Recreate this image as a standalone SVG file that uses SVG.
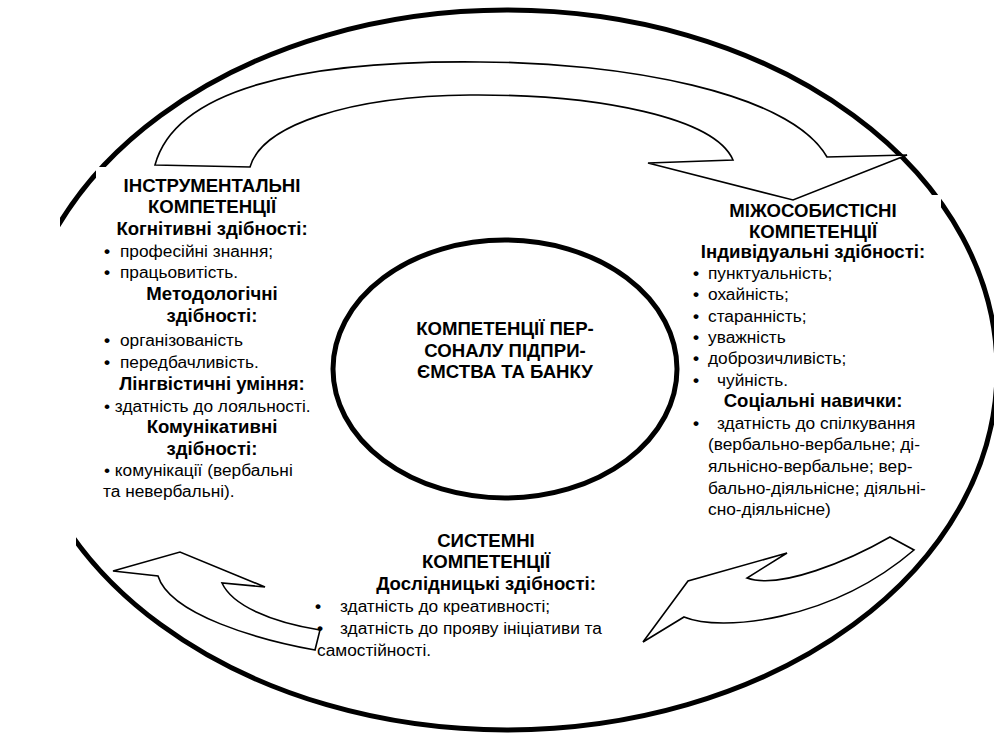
<svg xmlns="http://www.w3.org/2000/svg" width="994" height="733" viewBox="0 0 994 733">
<style>
text{font-family:"Liberation Sans",Arial,sans-serif;fill:#000}
.h{font-weight:bold;font-size:18.6px;text-anchor:middle}
.t{font-size:17.3px}
.bl{font-weight:bold}
.ell{fill:none;stroke:#000;stroke-width:5}
.arr{fill:#fff;stroke:#000;stroke-width:1.6;stroke-linejoin:miter}
</style>
<defs>
<clipPath id="cl"><polygon points="60,0 994,0 994,733 76,733 76,530 60,400"/></clipPath>
</defs>
<rect x="0" y="0" width="994" height="733" fill="#fff"/>
<g id="outer">
<ellipse class="ell" cx="507" cy="370" rx="490" ry="360" clip-path="url(#cl)"/>
<rect x="96" y="167" width="12" height="13" fill="#fff"/>
<rect x="926" y="195" width="15" height="12" fill="#fff"/>
</g>
<g id="connectors">
<path class="arr" d="M155,165 L250,167 C262,125 350,96 470,95 C600,94 715,118 733,160 L648,163 L793,200 L907,155 L827,157 C790,92 620,62 480,62 C300,60 175,90 155,165 Z"/>
<path class="arr" d="M113,571 L180,552 L265,587 L222,583 C232,605 270,622 320,630 L315,650 C260,640 170,615 158,576 Z"/>
<path class="arr" d="M890,537 C850,560 780,590 747,578 L787,553 L688,581 L643,642 L684,617 C720,632 830,622 914,550 Z"/>
</g>
<g id="center">
<ellipse class="ell" cx="505" cy="369" rx="172" ry="129" fill="#fff"/>
<text class="h" x="505" y="335">КОМПЕТЕНЦІЇ ПЕР-</text>
<text class="h" x="505" y="357">СОНАЛУ ПІДПРИ-</text>
<text class="h" x="505" y="378">ЄМСТВА ТА БАНКУ</text>
</g>
<g id="instrumental">
<text class="h" x="212" y="192">ІНСТРУМЕНТАЛЬНІ</text>
<text class="h" x="212" y="213">КОМПЕТЕНЦІЇ</text>
<text class="h" x="212" y="235">Когнітивні здібності:</text>
<text class="t" x="104" y="257"><tspan class="bl">•</tspan><tspan x="120">професійні знання;</tspan></text>
<text class="t" x="104" y="278"><tspan class="bl">•</tspan><tspan x="120">працьовитість.</tspan></text>
<text class="h" x="212" y="300">Методологічні</text>
<text class="h" x="212" y="322">здібності:</text>
<text class="t" x="104" y="346"><tspan class="bl">•</tspan><tspan x="120">організованість</tspan></text>
<text class="t" x="104" y="368"><tspan class="bl">•</tspan><tspan x="120">передбачливість.</tspan></text>
<text class="h" x="212" y="390">Лінгвістичні уміння:</text>
<text class="t" x="104" y="412">• здатність до лояльності.</text>
<text class="h" x="212" y="433">Комунікативні</text>
<text class="h" x="212" y="455">здібності:</text>
<text class="t" x="104" y="476">• комунікації (вербальні</text>
<text class="t" x="103" y="497">та невербальні).</text>
</g>
<g id="interpersonal">
<text class="h" x="813" y="217">МІЖОСОБИСТІСНІ</text>
<text class="h" x="813" y="238">КОМПЕТЕНЦІЇ</text>
<text class="h" x="813" y="258">Індивідуальні здібності:</text>
<text class="t" x="693" y="279"><tspan class="bl">•</tspan><tspan x="708">пунктуальність;</tspan></text>
<text class="t" x="693" y="300"><tspan class="bl">•</tspan><tspan x="708">охайність;</tspan></text>
<text class="t" x="693" y="322"><tspan class="bl">•</tspan><tspan x="708">старанність;</tspan></text>
<text class="t" x="693" y="343"><tspan class="bl">•</tspan><tspan x="708">уважність</tspan></text>
<text class="t" x="693" y="364"><tspan class="bl">•</tspan><tspan x="708">доброзичливість;</tspan></text>
<text class="t" x="693" y="386"><tspan class="bl">•</tspan><tspan x="717">чуйність.</tspan></text>
<text class="h" x="813" y="407">Соціальні навички:</text>
<text class="t" x="693" y="429"><tspan class="bl">•</tspan><tspan x="717">здатність до спілкування</tspan></text>
<text class="t" x="708" y="450">(вербально-вербальне; ді-</text>
<text class="t" x="708" y="472">яльнісно-вербальне; вер-</text>
<text class="t" x="708" y="494">бально-діяльнісне; діяльні-</text>
<text class="t" x="708" y="515">сно-діяльнісне)</text>
</g>
<g id="systemic">
<text class="h" x="486" y="547">СИСТЕМНІ</text>
<text class="h" x="486" y="568">КОМПЕТЕНЦІЇ</text>
<text class="h" x="486" y="590">Дослідницькі здібності:</text>
<text class="t" x="315" y="612"><tspan class="bl">•</tspan><tspan x="340">здатність до креативності;</tspan></text>
<text class="t" x="317" y="634"><tspan class="bl">•</tspan><tspan x="340">здатність до прояву ініціативи та</tspan></text>
<text class="t" x="317" y="656">самостійності.</text>
</g>
</svg>
